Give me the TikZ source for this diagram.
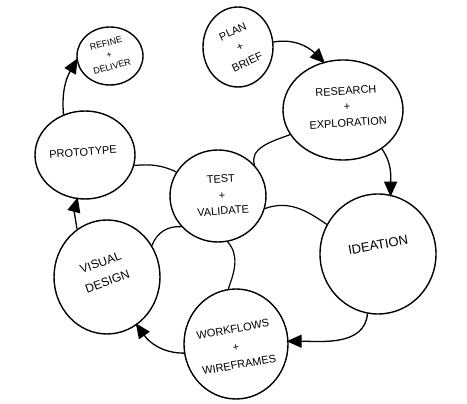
\documentclass[tikz,border=0pt]{standalone}
\usepackage{fontspec}
\setmainfont{Liberation Sans}
\usetikzlibrary{shapes.geometric,arrows.meta}
\tikzset{
  bub/.style={draw=black,line width=1.4pt,ellipse,inner sep=0pt,fill=none},
  lbl/.style={align=center,font=\fontsize{11}{16}\selectfont,inner sep=0pt},
  flow/.style={line width=1.3pt,-{Triangle[length=15pt,width=13pt]},shorten >=-2pt},
  link/.style={line width=1.2pt},
}
\begin{document}
\begin{tikzpicture}[x=1pt,y=1pt]
\useasboundingbox (0,0) rectangle (467,404);
% bubbles
\node[bub,minimum width=70pt,minimum height=80pt] (plan) at (238,357) {};
\node[bub,minimum width=66pt,minimum height=58pt] (refine) at (110,348) {};
\node[bub,minimum width=120pt,minimum height=100pt] (research) at (343,294) {};
\node[bub,minimum width=100pt,minimum height=88pt] (proto) at (85,249) {};
\node[bub,minimum width=96pt,minimum height=92pt] (test) at (218,208) {};
\node[bub,minimum width=116pt,minimum height=120pt] (idea) at (378,150) {};
\node[bub,minimum width=106pt,minimum height=114pt] (visual) at (107,127) {};
\node[bub,minimum width=104pt,minimum height=110pt] (work) at (236,60) {};
% labels
\node[lbl,rotate=25,font=\fontsize{11}{17}\selectfont] (planT) at (240,357) {PLAN\\+\\BRIEF};
\node[lbl,rotate=15,font=\fontsize{9}{12}\selectfont] (refineT) at (109,349) {REFINE\\+\\DELIVER};
\node[lbl,rotate=4] (researchT) at (347,297) {RESEARCH\\+\\EXPLORATION};
\node[lbl,rotate=4] (protoT) at (83,252) {PROTOTYPE};
\node[lbl,rotate=4] (testT) at (222,209) {TEST\\+\\VALIDATE};
\node[lbl,rotate=10,font=\fontsize{13}{14}\selectfont] (ideaT) at (378,159) {IDEATION};
\node[lbl,rotate=20,font=\fontsize{12}{20}\selectfont] (visualT) at (104,132) {VISUAL\\DESIGN};
\node[lbl,rotate=10,font=\fontsize{11}{18}\selectfont] (workT) at (236,57) {WORKFLOWS\\+\\WIREFRAMES};
% flow arrows
\draw[flow] (plan.8) to[out=10,in=135] (research.112);
\draw[flow] (research.-45) to[out=-55,in=90] (idea.78);
\draw[flow] (idea.-100) to[out=-95,in=0] (work.3);
\draw[flow] (work.190) to[out=180,in=-55] (visual.-58);
\draw[flow] (visual.122) to[out=100,in=-105] (proto.-100);
\draw[flow] (proto.118) to[out=95,in=-120] (refine.187);
% links to test
\draw[link] (proto.-12) to[out=5,in=155] (test.150);
\draw[link] (test.40) to[out=110,in=200] (research.205);
\draw[link] (test.-15) to[out=20,in=145] (idea.150);
\draw[link] (test.-140) to[out=175,in=70] (visual.35);
\draw[link] (test.-78) to[out=-50,in=70] (work.98);
\end{tikzpicture}
\end{document}
